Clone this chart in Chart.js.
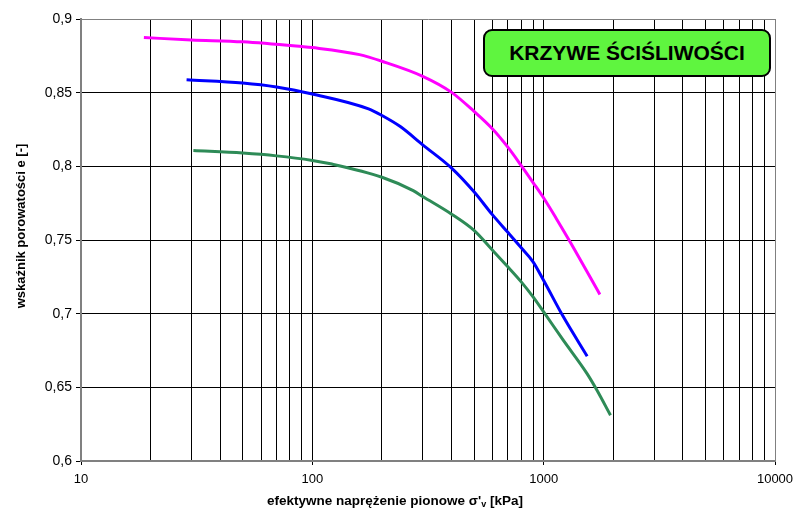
<!DOCTYPE html>
<html>
<head>
<meta charset="utf-8">
<script src="https://cdn.jsdelivr.net/npm/chart.js@4.4.0/dist/chart.umd.min.js"></script>
<style>
  html, body { margin: 0; padding: 0; background: #fff; }
  #wrap { position: relative; width: 797px; height: 509px; }
  #title {
    position: absolute; left: 483px; top: 29px; width: 284px; height: 44px;
    background: #5ff53f; border: 2px solid #000; border-radius: 9px;
    font: bold 21px "Liberation Sans", Arial, sans-serif; color: #000;
    display: flex; align-items: center; justify-content: center;
  }
</style>
</head>
<body>
<div id="wrap">
  <canvas id="chart" width="797" height="509"></canvas>
  <div id="title">KRZYWE ŚCIŚLIWOŚCI</div>
</div>
<script>
// naprężenie [kPa] / wskaźnik porowatości e [-]
const magentaStress = [18.7, 30, 50, 90, 100, 160, 200, 300, 400, 500, 600, 700, 800, 900, 1000, 1130, 1300, 1750];
const magentaVoid   = [0.8874, 0.8858, 0.8845, 0.8813, 0.8806, 0.8758, 0.8713, 0.8611, 0.8502, 0.8373, 0.8255, 0.813, 0.8005, 0.789, 0.7785, 0.765, 0.7488, 0.713];

const blueStress = [28.6, 50, 70, 100, 175, 200, 240, 300, 400, 500, 600, 700, 800, 900, 1000, 1215, 1542];
const blueVoid   = [0.8588, 0.8566, 0.8539, 0.8491, 0.839, 0.8345, 0.827, 0.8146, 0.7988, 0.7827, 0.7672, 0.7552, 0.7447, 0.7352, 0.7225, 0.698, 0.6711];

const greenStress = [30.6, 50, 70, 100, 120, 200, 273, 300, 400, 500, 600, 700, 800, 900, 1000, 1215, 1540, 1700, 1945];
const greenVoid   = [0.8107, 0.809, 0.8071, 0.804, 0.8017, 0.7926, 0.7835, 0.7795, 0.7675, 0.7565, 0.7432, 0.7318, 0.7216, 0.7114, 0.7012, 0.682, 0.6593, 0.648, 0.631];

const xLabels = [10, 100, 1000, 10000];
const yTicks = [0.6, 0.65, 0.7, 0.75, 0.8, 0.85, 0.9];

const FONT = '"Liberation Sans", Arial, sans-serif';

function toPoints(xs, ys) {
    return xs.map((x, i) => ({ x: x, y: ys[i] }));
}

// all log grid lines 10,20..90,100,200..
const xGrid = [];
for (let d = 10; d < 10000; d *= 10) {
    for (let m = 1; m < 10; m++) xGrid.push(d * m);
}
xGrid.push(10000);

const axisTitles = {
    id: 'axisTitles',
    afterDraw(chart) {
        const ctx = chart.ctx;
        ctx.save();
        ctx.fillStyle = '#000';
        ctx.textBaseline = 'middle';

        // x title with subscript v
        const main = "efektywne naprężenie pionowe σ'";
        const tail = ' [kPa]';
        const big = 'bold 13.5px ' + FONT;
        const small = 'bold 9px ' + FONT;
        ctx.font = big;
        const w1 = ctx.measureText(main).width;
        const w3 = ctx.measureText(tail).width;
        ctx.font = small;
        const w2 = ctx.measureText('v').width;
        let x = 395 - (w1 + w2 + w3) / 2;
        const y = 501;
        ctx.textAlign = 'left';
        ctx.font = big;
        ctx.fillText(main, x, y);
        x += w1;
        ctx.font = small;
        ctx.fillText('v', x, y + 4);
        x += w2;
        ctx.font = big;
        ctx.fillText(tail, x, y);

        // y title
        ctx.translate(21.5, 226);
        ctx.rotate(-Math.PI / 2);
        ctx.textAlign = 'center';
        ctx.font = 'bold 13px ' + FONT;
        ctx.fillText('wskaźnik porowatości e [-]', 0, 0);
        ctx.restore();
    }
};

const lineStyle = { borderWidth: 3, pointRadius: 0, fill: false, cubicInterpolationMode: 'monotone' };

new Chart(document.getElementById('chart').getContext('2d'), {
    type: 'line',
    data: {
        datasets: [
            Object.assign({ label: 'krzywa 1', data: toPoints(magentaStress, magentaVoid), borderColor: '#ff00ff' }, lineStyle),
            Object.assign({ label: 'krzywa 2', data: toPoints(blueStress, blueVoid), borderColor: '#0000ff' }, lineStyle),
            Object.assign({ label: 'krzywa 3', data: toPoints(greenStress, greenVoid), borderColor: '#2e8b57' }, lineStyle)
        ]
    },
    options: {
        responsive: false,
        animation: false,
        events: [],
        layout: { padding: { top: 19, right: 22, left: 0, bottom: 0 } },
        plugins: {
            legend: { display: false },
            tooltip: { enabled: false }
        },
        scales: {
            x: {
                type: 'logarithmic',
                min: 10,
                max: 10000,
                afterBuildTicks: s => { s.ticks = xGrid.map(v => ({ value: v })); },
                afterFit: s => { s.height = 48; s.paddingLeft = 0; s.paddingRight = 0; },
                border: { color: '#808080', width: 2 },
                grid: {
                    color: c => (c.tick && c.tick.value === 10000) ? '#808080' : '#000',
                    lineWidth: 1,
                    tickLength: 4,
                    tickColor: c => (c.tick && xLabels.includes(c.tick.value)) ? '#000' : 'rgba(0,0,0,0)'
                },
                ticks: {
                    autoSkip: false,
                    maxRotation: 0,
                    padding: 7,
                    color: '#000',
                    font: { family: FONT, size: 13 },
                    callback: v => xLabels.includes(v) ? String(v) : ''
                }
            },
            y: {
                min: 0.6,
                max: 0.9,
                afterBuildTicks: s => { s.ticks = yTicks.map(v => ({ value: v })); },
                afterFit: s => { s.width = 81; s.paddingTop = 0; s.paddingBottom = 0; },
                border: { color: '#808080', width: 2 },
                grid: {
                    color: c => (c.tick && c.tick.value === 0.9) ? '#808080' : '#000',
                    lineWidth: 1,
                    tickLength: 5,
                    tickColor: '#000'
                },
                ticks: {
                    padding: 4,
                    color: '#000',
                    font: { family: FONT, size: 14 },
                    callback: v => String(Number(v.toFixed(2))).replace('.', ',')
                }
            }
        }
    },
    plugins: [axisTitles]
});
</script>
</body>
</html>
